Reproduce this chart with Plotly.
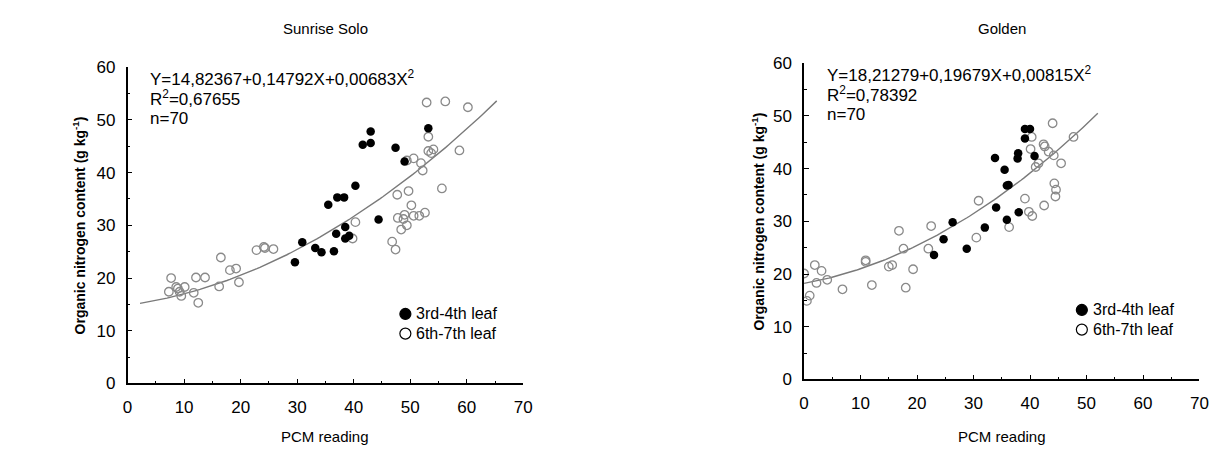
import numpy as np
import plotly.graph_objects as go

# ---------------- data ----------------
# Sunrise Solo
ss_open_x = [7.7, 7.3, 8.6, 8.9, 9.2, 9.5, 10.1, 11.7, 12.1, 12.5, 13.7, 16.2, 16.5, 18.1, 19.2, 19.7,
             22.8, 24.1, 24.3, 25.8,
             52.9, 56.2, 60.2, 53.2, 53.2, 54.1, 53.7, 58.7, 50.6, 49.4, 51.9, 52.2, 47.7, 49.7, 55.6,
             40.3, 39.8, 50.2, 47.8, 49.0, 48.8, 50.6, 51.6, 52.6, 49.4, 48.4, 46.8, 47.4]
ss_open_y = [20.0, 17.4, 18.3, 18.0, 17.4, 16.6, 18.3, 17.2, 20.1, 15.3, 20.1, 18.4, 23.9, 21.5, 21.8, 19.2,
             25.3, 25.9, 25.7, 25.5,
             53.3, 53.5, 52.4, 46.8, 44.1, 44.4, 43.7, 44.2, 42.7, 42.3, 41.8, 40.4, 35.8, 36.5, 37.0,
             30.6, 27.5, 33.8, 31.4, 32.0, 31.2, 31.8, 31.8, 32.4, 30.0, 29.2, 26.9, 25.4]
ss_fill_x = [30.9, 29.6, 43.0, 41.6, 43.0, 47.4, 53.2, 49.0, 40.3, 37.1, 38.3, 35.5, 44.4, 38.5, 36.9,
             39.2, 38.5, 33.2, 34.3, 36.5]
ss_fill_y = [26.8, 23.0, 47.8, 45.3, 45.6, 44.7, 48.4, 42.1, 37.5, 35.3, 35.3, 33.9, 31.1, 29.7, 28.4,
             28.0, 27.5, 25.7, 24.9, 25.1]
ss_coef = [14.82367, 0.14792, 0.00683]
ss_curve_range = [2.2, 65.3]

# Golden
go_open_x = [0.0, 0.5, 1.0, 1.9, 3.1, 2.2, 4.1, 6.8, 10.9, 10.9, 12.0, 15.0, 15.6, 16.8, 17.6, 18.0,
             19.3, 22.0, 22.5, 30.5, 30.9, 36.3,
             44.0, 40.3, 40.1, 42.4, 42.6, 43.3, 44.2, 47.7, 45.5, 41.5, 41.0, 44.3, 44.6, 44.5, 39.1,
             39.8, 40.4, 42.5]
go_open_y = [20.1, 14.9, 15.9, 21.7, 20.6, 18.3, 18.9, 17.1, 22.6, 22.3, 17.9, 21.4, 21.7, 28.2, 24.8, 17.4,
             20.9, 24.8, 29.1, 26.9, 33.9, 28.9,
             48.6, 46.0, 43.7, 44.6, 44.2, 43.2, 42.5, 46.0, 41.0, 41.0, 40.3, 37.2, 36.0, 34.7, 34.3,
             31.8, 31.0, 33.0]
go_fill_x = [23.0, 24.7, 26.3, 28.8, 32.0, 34.0, 35.9, 33.8, 35.5, 35.9, 39.1, 40.0, 39.1, 37.9, 37.8,
             40.8, 36.2, 38.0]
go_fill_y = [23.6, 26.6, 29.8, 24.8, 28.8, 32.6, 30.3, 42.0, 39.8, 36.8, 47.5, 47.5, 45.7, 42.9, 41.9,
             42.4, 36.9, 31.7]
go_coef = [18.21279, 0.19679, 0.00815]
go_curve_range = [0.0, 52.0]

titles = ["Sunrise Solo", "Golden"]
equations = [
    ["Y=14,82367+0,14792X+0,00683X<sup>2</sup>", "R<sup>2</sup>=0,67655", "n=70"],
    ["Y=18,21279+0,19679X+0,00815X<sup>2</sup>", "R<sup>2</sup>=0,78392", "n=70"],
]
legend_labels = ["3rd-4th leaf", "6th-7th leaf"]
x_title = "PCM reading"
y_title = "Organic nitrogen content (g kg<sup>-1</sup>)"
x_ticks = [0, 10, 20, 30, 40, 50, 60, 70]
y_ticks = [0, 10, 20, 30, 40, 50, 60]

# ---------------- layout constants ----------------
W, H = 1225, 457
FONT = "Liberation Sans, Arial, Helvetica, sans-serif"
panels = [
    dict(x0=124, x1=524.3, ytop=60.7, ybot=390.7),
    dict(x0=808.3, x1=1208.3, ytop=56.5, ybot=386.5),
]

fig = go.Figure()

def curve(coef, rng):
    xs = np.linspace(rng[0], rng[1], 120)
    return xs, coef[0] + coef[1] * xs + coef[2] * xs ** 2

datasets = [
    (ss_open_x, ss_open_y, ss_fill_x, ss_fill_y, ss_coef, ss_curve_range),
    (go_open_x, go_open_y, go_fill_x, go_fill_y, go_coef, go_curve_range),
]

for i, (ox, oy, fx, fy, coef, rng) in enumerate(datasets):
    xa = "x" if i == 0 else "x2"
    ya = "y" if i == 0 else "y2"
    cx, cy = curve(coef, rng)
    fig.add_trace(go.Scatter(x=cx, y=cy, mode="lines", xaxis=xa, yaxis=ya,
                             line=dict(color="#7a7a7a", width=1.4), showlegend=False, hoverinfo="skip"))
    fig.add_trace(go.Scatter(x=ox, y=oy, mode="markers", xaxis=xa, yaxis=ya, showlegend=False,
                             marker=dict(symbol="circle-open", size=8.5, color="#8a8a8a",
                                         line=dict(width=1.3, color="#8a8a8a"))))
    fig.add_trace(go.Scatter(x=fx, y=fy, mode="markers", xaxis=xa, yaxis=ya, showlegend=False,
                             marker=dict(symbol="circle", size=8.5, color="black",
                                         line=dict(width=0))))

annotations = []
shapes = []
for i, p in enumerate(panels):
    sfx = "" if i == 0 else "2"
    dom_x = [p["x0"] / W, p["x1"] / W]
    dom_y = [1 - p["ybot"] / H, 1 - p["ytop"] / H]
    common = dict(showline=True, linecolor="black", linewidth=1.5, ticks="inside", ticklen=5,
                  tickwidth=1.2, tickcolor="black", showgrid=False, zeroline=False,
                  tickfont=dict(family=FONT, size=17, color="black"),
                  minor=dict(ticks="inside", ticklen=3, tickwidth=1.2, tickcolor="black", showgrid=False),
                  fixedrange=True)
    fig.update_layout(**{
        "xaxis" + sfx: dict(domain=dom_x, range=[0, 70], tickvals=x_ticks, minor_dtick=5,
                            anchor="y" + sfx, ticklabelstandoff=7, **common),
        "yaxis" + sfx: dict(domain=dom_y, range=[0, 60], tickvals=y_ticks, minor_dtick=5,
                            anchor="x" + sfx, ticklabelstandoff=7, **common),
    })
    cxp = (p["x0"] + p["x1"]) / 2
    # subplot title
    annotations.append(dict(text=titles[i], x=cxp / W, y=1 - 20 / H, xref="paper", yref="paper",
                            showarrow=False, xanchor="center", yanchor="middle",
                            font=dict(family=FONT, size=15, color="black")))
    # x title
    annotations.append(dict(text=x_title, x=cxp / W, y=1 - 446 / H, xref="paper", yref="paper",
                            showarrow=False, xanchor="center", yanchor="middle",
                            font=dict(family=FONT, size=15, color="black")))
    # y title
    ytx = 75 if i == 0 else 762
    annotations.append(dict(text="<b>" + y_title + "</b>", x=ytx / W,
                            y=1 - (p["ytop"] + p["ybot"]) / 2 / H, xref="paper", yref="paper",
                            showarrow=False, xanchor="center", yanchor="middle", textangle=-90,
                            font=dict(family=FONT, size=14, color="black")))
    # equation lines
    ex = p["x0"] + 21
    for j, line in enumerate(equations[i]):
        ey = p["ytop"] + 11 + j * 21.5
        annotations.append(dict(text=line, x=ex / W, y=1 - ey / H, xref="paper", yref="paper",
                                showarrow=False, xanchor="left", yanchor="middle",
                                font=dict(family=FONT, size=17, color="black")))
    # legend
    lx = p["x0"] + 281
    for j, lab in enumerate(legend_labels):
        ly = p["ybot"] - 72.5 + j * 20.5
        filled = j == 0
        shapes.append(dict(type="circle", xref="paper", yref="paper", xsizemode="pixel",
                           ysizemode="pixel", xanchor=lx / W, yanchor=1 - ly / H,
                           x0=-5.5, x1=5.5, y0=-5.5, y1=5.5,
                           fillcolor="black" if filled else "white",
                           line=dict(color="black", width=1.2)))
        annotations.append(dict(text=lab, x=(lx + 9) / W, y=1 - ly / H, xref="paper", yref="paper",
                                showarrow=False, xanchor="left", yanchor="middle",
                                font=dict(family=FONT, size=16, color="black")))

fig.update_layout(width=W, height=H, margin=dict(l=0, r=0, t=0, b=0),
                  paper_bgcolor="white", plot_bgcolor="white",
                  annotations=annotations, shapes=shapes, showlegend=False)

fig.write_html("out.html")
